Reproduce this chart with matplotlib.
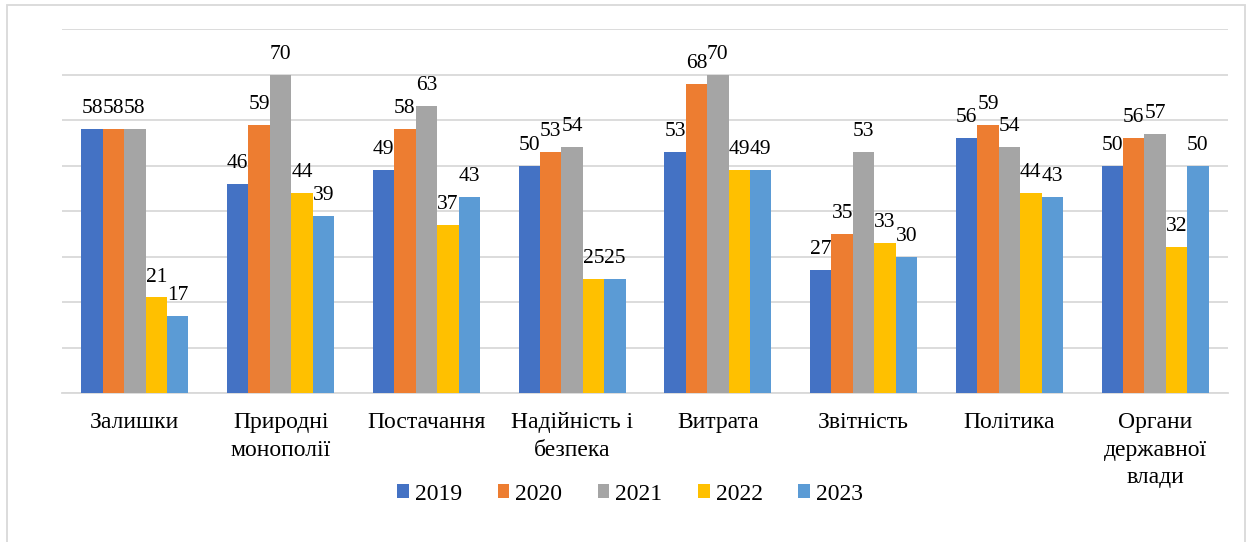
import matplotlib.pyplot as plt
import numpy as np
from matplotlib.patches import Rectangle

plt.rcParams['font.family'] = ['Liberation Serif', 'DejaVu Serif']

categories = ['Залишки', 'Природні\nмонополії', 'Постачання', 'Надійність і\nбезпека',
              'Витрата', 'Звітність', 'Політика', 'Органи\nдержавної\nвлади']
years = ['2019', '2020', '2021', '2022', '2023']
v2019 = [58, 46, 49, 50, 53, 27, 56, 50]
v2020 = [58, 59, 58, 53, 68, 35, 59, 56]
v2021 = [58, 70, 63, 54, 70, 53, 54, 57]
v2022 = [21, 44, 37, 25, 49, 33, 44, 32]
v2023 = [17, 39, 43, 25, 49, 30, 43, 50]
series = [v2019, v2020, v2021, v2022, v2023]
colors = ['#4472C4', '#ED7D31', '#A5A5A5', '#FFC000', '#5B9BD5']

fig = plt.figure(figsize=(12.53, 5.42), dpi=100)
ax = fig.add_axes([62 / 1253, 1 - 393 / 542, (1228 - 62) / 1253, (393 - 29) / 542])

x = np.arange(len(categories))
w = 0.147
for i, (vals, c) in enumerate(zip(series, colors)):
    pos = x + (i - 2) * w
    ax.bar(pos, vals, width=w, color=c, label=years[i], zorder=3)
    for p, v in zip(pos, vals):
        ax.text(p, v + 2.4, str(v), ha='center', va='bottom', fontsize=15.5)

ax.set_xlim(-0.5, len(categories) - 0.5)
ax.set_ylim(0, 80)
ax.set_yticks(np.arange(0, 81, 10))
ax.set_yticklabels([])
ax.tick_params(axis='y', length=0)
ax.grid(axis='y', color='#D9D9D9', linewidth=1.3, zorder=0)
ax.set_xticks(x)
ax.set_xticklabels(categories, fontsize=17, linespacing=1.4)
ax.tick_params(axis='x', length=0, pad=14)
for s in ['top', 'right', 'left']:
    ax.spines[s].set_visible(False)
ax.spines['bottom'].set_color('#D9D9D9')
ax.spines['bottom'].set_linewidth(1.3)

fig.legend(loc='center', bbox_to_anchor=(630 / 1253, 1 - 494 / 542), ncol=5, frameon=False,
           fontsize=17, handlelength=0.5, handleheight=0.5, columnspacing=1.5, handletextpad=0.25)

fig.patches.append(Rectangle((7 / 1253, -0.05), (1245 - 7) / 1253, 1.05 - 5 / 542,
                             transform=fig.transFigure, fill=False, edgecolor='#D9D9D9', linewidth=1.3))

fig.savefig('out.png', dpi=100)
